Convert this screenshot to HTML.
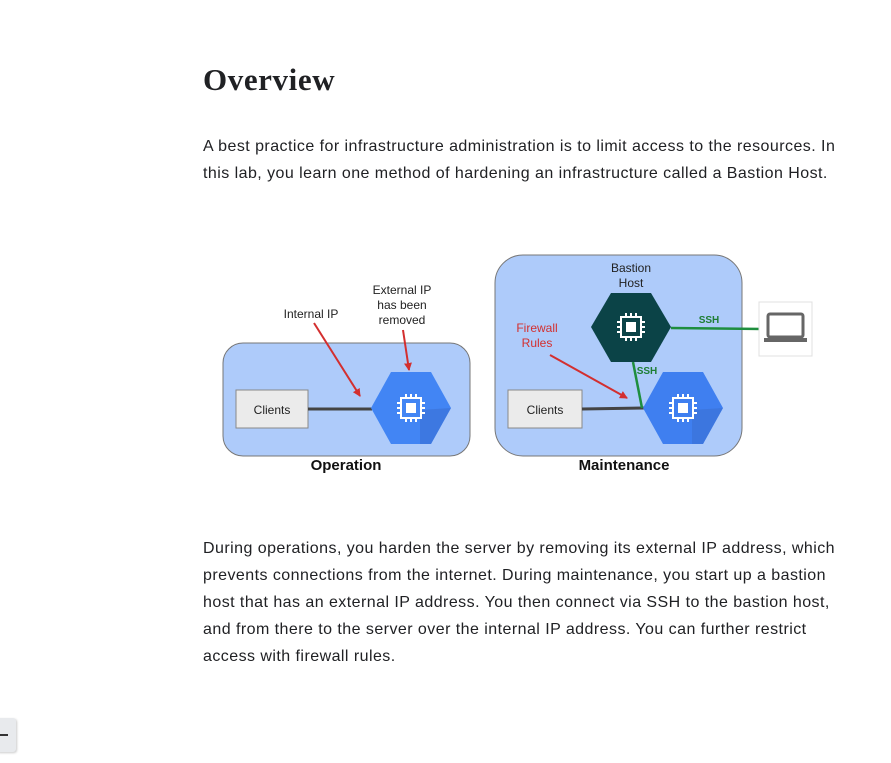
<!DOCTYPE html>
<html><head><meta charset="utf-8"><style>
html,body{margin:0;padding:0;background:#fff;width:891px;height:763px;overflow:hidden;position:relative}
h1{position:absolute;left:203px;top:62px;margin:0;font:bold 31px "Liberation Serif",serif;color:#202124;letter-spacing:0.6px}
.p{position:absolute;left:203px;font:16px/27px "Liberation Sans",sans-serif;color:#202124;white-space:nowrap;letter-spacing:0.45px}
svg{position:absolute;left:0;top:0}
.tab{position:absolute;left:-4px;top:718px;width:20px;height:34px;background:#e8eaed;border-radius:3px;box-shadow:1px 1px 2px #ccc}
.tab:after{content:"";position:absolute;left:4px;top:16px;width:8px;height:2px;background:#333}
</style></head><body>
<h1>Overview</h1>
<div class="p" style="top:133px">A best practice for infrastructure administration is to limit access to the resources. In<br>this lab, you learn one method of hardening an infrastructure called a Bastion Host.</div>
<div class="p" style="top:535px">During operations, you harden the server by removing its external IP address, which<br>prevents connections from the internet. During maintenance, you start up a bastion<br>host that has an external IP address. You then connect via SSH to the bastion host,<br>and from there to the server over the internal IP address. You can further restrict<br>access with firewall rules.</div>
<div class="tab"></div>
<svg width="891" height="763" viewBox="0 0 891 763" font-family="Liberation Sans, sans-serif">
<defs>
<marker id="ar" markerWidth="8" markerHeight="8" refX="7" refY="4" orient="auto" markerUnits="userSpaceOnUse"><path d="M0,0 L8,4 L0,8 z" fill="#d32f2f"/></marker>
<g id="chip" fill="none" stroke="#fff" stroke-width="2">
<rect x="-10" y="-10" width="20" height="20"/>
<rect x="-5" y="-5" width="10" height="10" fill="#fff" stroke="none"/>
<path d="M-5,-10v-4M0,-10v-4M5,-10v-4M-5,10v4M0,10v4M5,10v4M-10,-5h-4M-10,0h-4M-10,5h-4M10,-5h4M10,0h4M10,5h4"/>
</g>
</defs>
<rect x="223" y="343" width="247" height="113" rx="20" fill="#aecbfa" stroke="#777" stroke-width="1"/>
<rect x="236" y="390" width="72" height="38" fill="#ebebeb" stroke="#888"/>
<text x="272" y="414" font-size="12" text-anchor="middle" fill="#222">Clients</text>
<line x1="308" y1="409" x2="372" y2="409" stroke="#444" stroke-width="3"/>
<polygon points="371,408 391,372 431,372 451,408 431,444 391,444" fill="#4285f4"/>
<polygon points="420,410 451,408 431,444 420,444" fill="#3b6fd4" opacity="0.6"/>
<use href="#chip" x="411" y="408"/>
<text x="311" y="318" font-size="12" text-anchor="middle" fill="#222">Internal IP</text>
<text x="402" y="294" font-size="12" text-anchor="middle" fill="#222">External IP</text>
<text x="402" y="309" font-size="12" text-anchor="middle" fill="#222">has been</text>
<text x="402" y="324" font-size="12" text-anchor="middle" fill="#222">removed</text>
<line x1="314" y1="323" x2="360" y2="396" stroke="#d32f2f" stroke-width="2" marker-end="url(#ar)"/>
<line x1="403" y1="330" x2="409" y2="370" stroke="#d32f2f" stroke-width="2" marker-end="url(#ar)"/>
<text x="346" y="470" font-size="15" font-weight="bold" text-anchor="middle" fill="#111">Operation</text>
<rect x="495" y="255" width="247" height="201" rx="28" fill="#aecbfa" stroke="#777" stroke-width="1"/>
<rect x="508" y="390" width="74" height="38" fill="#ebebeb" stroke="#888"/>
<text x="545" y="414" font-size="12" text-anchor="middle" fill="#222">Clients</text>
<line x1="582" y1="409" x2="644" y2="408" stroke="#444" stroke-width="3"/>
<line x1="671" y1="328" x2="763" y2="329" stroke="#1e8e3e" stroke-width="2.5"/>
<line x1="633" y1="362" x2="642" y2="408" stroke="#1e8e3e" stroke-width="2.5"/>
<polygon points="591,327 611,293 651,293 671,327 651,362 611,362" fill="#0b4347"/>
<use href="#chip" x="631" y="327"/>
<polygon points="643,408 663,372 703,372 723,408 703,444 663,444" fill="#3f7ff0"/>
<polygon points="692,410 723,408 703,444 692,444" fill="#3b6fd4" opacity="0.6"/>
<use href="#chip" x="683" y="408"/>
<text x="631" y="272" font-size="12" text-anchor="middle" fill="#222">Bastion</text>
<text x="631" y="287" font-size="12" text-anchor="middle" fill="#222">Host</text>
<text x="537" y="332" font-size="12" text-anchor="middle" fill="#d32f2f">Firewall</text>
<text x="537" y="347" font-size="12" text-anchor="middle" fill="#d32f2f">Rules</text>
<line x1="550" y1="355" x2="627" y2="398" stroke="#d32f2f" stroke-width="2" marker-end="url(#ar)"/>
<text x="709" y="323" font-size="10" font-weight="bold" text-anchor="middle" fill="#1e7e34">SSH</text>
<text x="647" y="374" font-size="10" font-weight="bold" text-anchor="middle" fill="#1e7e34">SSH</text>
<text x="624" y="470" font-size="15" font-weight="bold" text-anchor="middle" fill="#111">Maintenance</text>
<rect x="759" y="302" width="53" height="54" fill="#fff" stroke="#e0e0e0"/>
<rect x="768" y="314" width="35" height="23" rx="2" fill="none" stroke="#666" stroke-width="3"/>
<rect x="764" y="338" width="43" height="4" fill="#666"/>
</svg>
</body></html>
